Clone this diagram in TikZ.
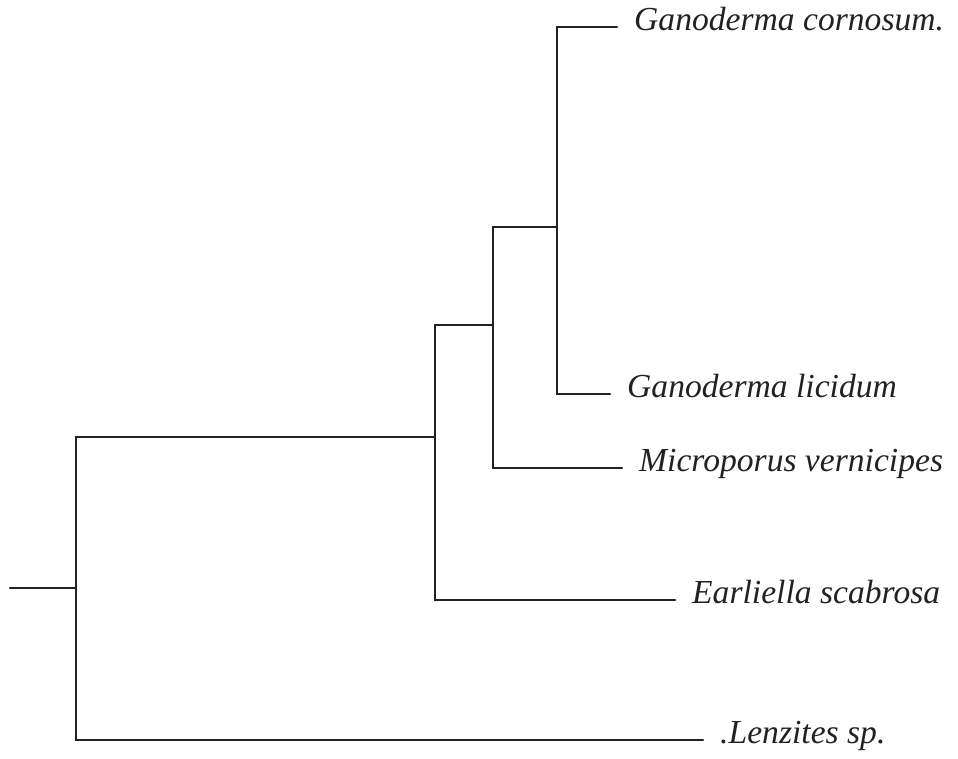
\documentclass[tikz,border=0pt]{standalone}
\usepackage{fontspec}
\setmainfont{Liberation Serif}
\usepackage{tikz}
\usetikzlibrary{positioning}
\definecolor{ink}{HTML}{222222}
\tikzset{
  taxon/.style={anchor=west,inner xsep=17pt,inner ysep=0pt,text height=0.75em,text depth=0.15em,
    font=\fontsize{33.6}{40}\selectfont\itshape,text=ink},
  branch/.style={draw=ink,line width=2.3pt,line cap=round,line join=miter}
}

\begin{document}
\begin{tikzpicture}[x=1pt,y=-1pt]
\useasboundingbox (0,0) rectangle (958,758);
\coordinate (stub) at (10,588);
\coordinate (root) at (76,588);
\coordinate (cladeA) at (435,437);
\coordinate (cladeB) at (493,325);
\coordinate (cladeC) at (557,227);
\node[taxon] (cornosum) at (617,27) {Ganoderma cornosum.};
\node[taxon] (licidum) at (610,394) {Ganoderma licidum};
\node[taxon] (microporus) at (622,468) {Microporus vernicipes};
\node[taxon] (earliella) at (675,600) {Earliella scabrosa};
\node[taxon] (lenzites) at (703,740) {.Lenzites sp.};
\draw[branch] (stub) -- (root);
\draw[branch] (cladeA) -| (root) |- (lenzites.west);
\draw[branch] (cladeB) -| (cladeA) |- (earliella.west);
\draw[branch] (cladeC) -| (cladeB) |- (microporus.west);
\draw[branch] (cornosum.west) -| (cladeC) |- (licidum.west);
\end{tikzpicture}
\end{document}
